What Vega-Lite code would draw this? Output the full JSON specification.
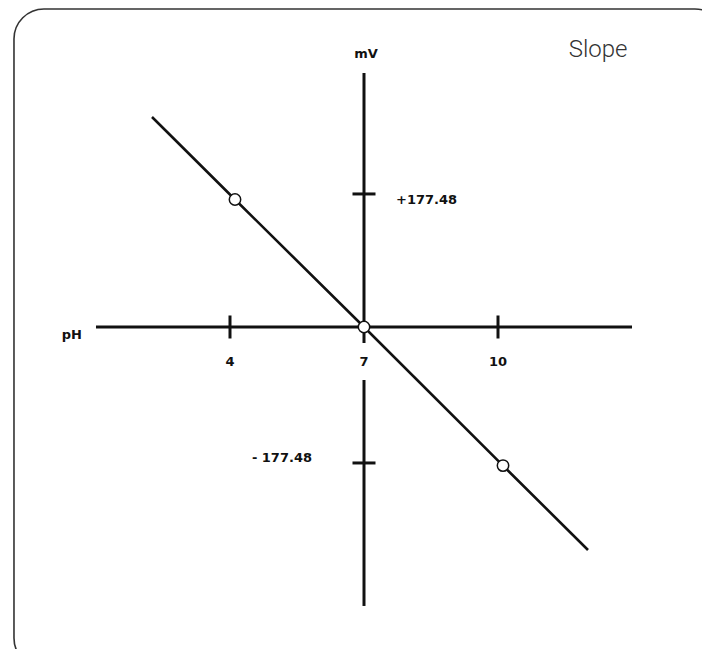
{
  "$schema": "https://vega.github.io/schema/vega-lite/v6.json",
  "width": 702,
  "height": 649,
  "autosize": {"type": "none"},
  "padding": 0,
  "background": "white",
  "config": {"view": {"stroke": null}},
  "layer": [
    {
      "data": {"values": [{"frame": "border"}]},
      "mark": {"type": "rect", "fill": null, "stroke": "#333333", "strokeWidth": 1.6, "cornerRadius": 30},
      "encoding": {
        "x": {"datum": -0.836, "type": "quantitative", "scale": {"domain": [-1.149, 14.567], "nice": false, "zero": false}, "axis": null},
        "x2": {"datum": 15.08},
        "y": {"datum": 421.2, "type": "quantitative", "scale": {"domain": [-426.5, 433.1], "nice": false, "zero": false}, "axis": null},
        "y2": {"datum": -451.6}
      }
    },
    {
      "data": {"values": [
        {"pH": 1, "pH2": 13, "mV": 0, "mV2": 0},
        {"pH": 7, "pH2": 7, "mV": 336.4, "mV2": -21.2},
        {"pH": 7, "pH2": 7, "mV": -70.2, "mV2": -369.5}
      ]},
      "mark": {"type": "rule", "color": "#111111", "strokeWidth": 3},
      "encoding": {
        "x": {"field": "pH", "type": "quantitative", "scale": {"domain": [-1.149, 14.567], "nice": false, "zero": false}, "axis": null},
        "x2": {"field": "pH2"},
        "y": {"field": "mV", "type": "quantitative", "scale": {"domain": [-426.5, 433.1], "nice": false, "zero": false}, "axis": null},
        "y2": {"field": "mV2"}
      }
    },
    {
      "data": {"values": [{"pH": 4}, {"pH": 10}]},
      "mark": {"type": "tick", "orient": "vertical", "size": 23, "thickness": 3, "color": "#111111", "opacity": 1},
      "encoding": {
        "x": {"field": "pH", "type": "quantitative", "axis": null},
        "y": {"datum": 0, "type": "quantitative", "axis": null}
      }
    },
    {
      "data": {"values": [{"mV": 176.2}, {"mV": -180.1}]},
      "mark": {"type": "tick", "orient": "horizontal", "size": 23, "thickness": 3, "color": "#111111", "opacity": 1},
      "encoding": {
        "x": {"datum": 7, "type": "quantitative", "axis": null},
        "y": {"field": "mV", "type": "quantitative", "axis": null}
      }
    },
    {
      "data": {"values": [
        {"pH": 2.254, "mV": 278.1, "pt": false},
        {"pH": 4.112, "mV": 168.9, "pt": true},
        {"pH": 7, "mV": 0, "pt": true},
        {"pH": 10.112, "mV": -183.6, "pt": true},
        {"pH": 12.015, "mV": -295.4, "pt": false}
      ]},
      "layer": [
        {
          "mark": {"type": "line", "color": "#111111", "strokeWidth": 2.6},
          "encoding": {
            "x": {"field": "pH", "type": "quantitative", "axis": null},
            "y": {"field": "mV", "type": "quantitative", "axis": null}
          }
        },
        {
          "transform": [{"filter": "datum.pt"}],
          "mark": {"type": "point", "filled": true, "fill": "white", "stroke": "#111111", "strokeWidth": 1.5, "size": 130, "opacity": 1},
          "encoding": {
            "x": {"field": "pH", "type": "quantitative", "axis": null},
            "y": {"field": "mV", "type": "quantitative", "axis": null}
          }
        }
      ]
    },
    {
      "data": {"values": [{"label": "4", "pH": 4}, {"label": "7", "pH": 7}, {"label": "10", "pH": 10}]},
      "mark": {"type": "text", "font": "DejaVu Sans", "fontWeight": "bold", "fontSize": 13, "color": "#111111", "align": "center", "baseline": "middle", "dy": 35},
      "encoding": {
        "x": {"field": "pH", "type": "quantitative", "axis": null},
        "y": {"datum": 0, "type": "quantitative", "axis": null},
        "text": {"field": "label"}
      }
    },
    {
      "data": {"values": [{"label": "pH", "pH": 1, "mV": 0}]},
      "mark": {"type": "text", "font": "DejaVu Sans", "fontWeight": "bold", "fontSize": 13, "color": "#111111", "align": "right", "baseline": "middle", "dx": -14, "dy": 8},
      "encoding": {
        "x": {"field": "pH", "type": "quantitative", "axis": null},
        "y": {"field": "mV", "type": "quantitative", "axis": null},
        "text": {"field": "label"}
      }
    },
    {
      "data": {"values": [{"label": "mV", "pH": 7, "mV": 336.4}]},
      "mark": {"type": "text", "font": "DejaVu Sans", "fontWeight": "bold", "fontSize": 13, "color": "#111111", "align": "center", "baseline": "middle", "dx": 2, "dy": -19},
      "encoding": {
        "x": {"field": "pH", "type": "quantitative", "axis": null},
        "y": {"field": "mV", "type": "quantitative", "axis": null},
        "text": {"field": "label"}
      }
    },
    {
      "data": {"values": [{"label": "+177.48", "pH": 7, "mV": 176.2}]},
      "mark": {"type": "text", "font": "DejaVu Sans", "fontWeight": "bold", "fontSize": 13, "color": "#111111", "align": "left", "baseline": "middle", "dx": 32, "dy": 6},
      "encoding": {
        "x": {"field": "pH", "type": "quantitative", "axis": null},
        "y": {"field": "mV", "type": "quantitative", "axis": null},
        "text": {"field": "label"}
      }
    },
    {
      "data": {"values": [{"label": "- 177.48", "pH": 7, "mV": -180.1}]},
      "mark": {"type": "text", "font": "DejaVu Sans", "fontWeight": "bold", "fontSize": 13, "color": "#111111", "align": "right", "baseline": "middle", "dx": -52, "dy": -5},
      "encoding": {
        "x": {"field": "pH", "type": "quantitative", "axis": null},
        "y": {"field": "mV", "type": "quantitative", "axis": null},
        "text": {"field": "label"}
      }
    },
    {
      "data": {"values": [{"title": "Slope", "pH": 12.24, "mV": 366.9}]},
      "mark": {"type": "text", "font": "Roboto", "fontWeight": 300, "fontSize": 24, "color": "#333333", "align": "center", "baseline": "middle"},
      "encoding": {
        "x": {"field": "pH", "type": "quantitative", "axis": null},
        "y": {"field": "mV", "type": "quantitative", "axis": null},
        "text": {"field": "title"}
      }
    }
  ]
}
